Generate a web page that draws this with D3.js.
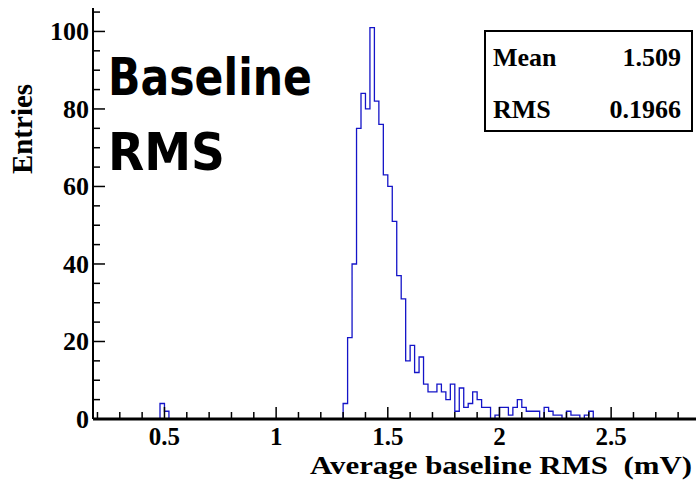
<!DOCTYPE html>
<html>
<head>
<meta charset="utf-8">
<script src="https://cdn.jsdelivr.net/npm/d3@7"></script>
<style>
  body { margin: 0; background: #fff; }
  svg { display: block; }
</style>
</head>
<body>
<div id="wrapper"></div>
<script>
// Data: histogram bins (lower edge, width 0.02) and their entries
const BIN_WIDTH = 0.02;
const lowBinEdges = [0.48, 0.50];
const lowBinCounts = [4, 2];
const mainStart = 1.30;
const mainCounts = [
  4, 21, 40, 75, 84, 80, 101, 82, 76, 63,
  60, 51, 37, 31, 15, 19, 12, 16, 9, 7,
  7, 9, 7, 5, 9, 2, 8, 3, 4, 7,
  5, 3, 3, 0, 1, 3, 3, 1, 3, 5,
  3, 2, 2, 2, 0, 3, 2, 1, 1, 0,
  2, 1, 1, 0, 1, 2
];
const xTickValues = [0.5, 1, 1.5, 2, 2.5];
const yTickValues = [0, 20, 40, 60, 80, 100];
const statsLabels = ["Mean", "RMS"];
const statsValues = ["1.509", "0.1966"];
const titleLines = ["Baseline", "RMS"];

// Constants
const WIDTH = 696;
const HEIGHT = 481;
const X_DOMAIN = [0.18, 2.88];
const Y_MAX = 101 * 1.05;
const SERIF = "'Liberation Serif', 'Times New Roman', serif";

const dimensions = (() => {
  let dimensions = {
    width: WIDTH,
    height: HEIGHT,
    margin: { top: 8, right: 0, bottom: 62, left: 93 },
  };
  dimensions.boundedWidth = dimensions.width - dimensions.margin.left - dimensions.margin.right;
  dimensions.boundedHeight = dimensions.height - dimensions.margin.top - dimensions.margin.bottom;
  return dimensions;
})();

function drawHistogram() {
  // Build bins
  const bins = [];
  lowBinEdges.forEach((x0, i) => bins.push({ x0, count: lowBinCounts[i] }));
  mainCounts.forEach((c, i) => bins.push({ x0: +(mainStart + i * BIN_WIDTH).toFixed(2), count: c }));

  const wrapper = d3.select("#wrapper")
    .append("svg")
    .attr("width", dimensions.width)
    .attr("height", dimensions.height);

  const bounds = wrapper.append("g")
    .attr("transform", `translate(${dimensions.margin.left}, ${dimensions.margin.top})`);

  const xScale = d3.scaleLinear()
    .domain(X_DOMAIN)
    .range([0, dimensions.boundedWidth]);

  const yScale = d3.scaleLinear()
    .domain([0, Y_MAX])
    .range([dimensions.boundedHeight, 0]);

  // Split into contiguous blocks and draw step outline
  const segs = [];
  let cur = [];
  bins.forEach((b, i) => {
    if (i > 0 && Math.abs(bins[i - 1].x0 + BIN_WIDTH - b.x0) > 1e-6) { segs.push(cur); cur = []; }
    cur.push(b);
  });
  segs.push(cur);
  let d = "";
  segs.forEach(seg => {
    d += `M${xScale(seg[0].x0)},${yScale(0)}`;
    seg.forEach(b => {
      d += `L${xScale(b.x0)},${yScale(b.count)}L${xScale(b.x0 + BIN_WIDTH)},${yScale(b.count)}`;
    });
    d += `L${xScale(seg[seg.length - 1].x0 + BIN_WIDTH)},${yScale(0)}`;
  });

  bounds.append("path")
    .attr("d", d)
    .attr("fill", "none")
    .attr("stroke", "#1414c8")
    .attr("stroke-width", 1.3);

  // X axis
  const xMinor = d3.range(0.2, 2.9, 0.1).map(v => +v.toFixed(2));
  const xAxis = bounds.append("g").attr("transform", `translate(0, ${dimensions.boundedHeight})`);
  xAxis.selectAll(".minor").data(xMinor).join("line")
    .attr("x1", d => xScale(d)).attr("x2", d => xScale(d))
    .attr("y1", 0).attr("y2", d => xTickValues.some(t => Math.abs(t - d) < 1e-6) ? -12 : -7)
    .attr("stroke", "#000").attr("stroke-width", 1.5);
  xAxis.append("line")
    .attr("x1", 0).attr("x2", dimensions.boundedWidth)
    .attr("stroke", "#000").attr("stroke-width", 3);
  xAxis.selectAll(".xlabel").data(xTickValues).join("text")
    .attr("x", d => xScale(d))
    .attr("y", 26)
    .attr("text-anchor", "middle")
    .style("font-family", SERIF)
    .style("font-weight", "bold")
    .style("font-size", "25px")
    .text(d => d);

  // Y axis
  const yMinor = d3.range(0, 106, 5);
  const yAxis = bounds.append("g");
  yAxis.selectAll(".minor").data(yMinor).join("line")
    .attr("x1", 0)
    .attr("x2", d => d % 20 === 0 ? 12 : 7)
    .attr("y1", d => yScale(d)).attr("y2", d => yScale(d))
    .attr("stroke", "#000").attr("stroke-width", 1.5);
  yAxis.append("line")
    .attr("y1", 0).attr("y2", dimensions.boundedHeight)
    .attr("stroke", "#000").attr("stroke-width", 2);
  yAxis.selectAll(".ylabel").data(yTickValues).join("text")
    .attr("x", -4)
    .attr("y", d => yScale(d) + 9)
    .attr("text-anchor", "end")
    .style("font-family", SERIF)
    .style("font-weight", "bold")
    .style("font-size", "26px")
    .text(d => d);

  // Axis titles
  wrapper.append("text")
    .attr("x", 692)
    .attr("y", 474)
    .attr("text-anchor", "end")
    .attr("textLength", 382)
    .attr("lengthAdjust", "spacingAndGlyphs")
    .style("white-space", "pre")
    .style("font-family", SERIF)
    .style("font-weight", "bold")
    .style("font-size", "26px")
    .text("Average baseline RMS  (mV)");

  wrapper.append("text")
    .attr("transform", "translate(32, 129) rotate(-90)")
    .attr("text-anchor", "middle")
    .style("font-family", SERIF)
    .style("font-weight", "bold")
    .style("font-size", "29px")
    .text("Entries");

  // Big title text
  wrapper.selectAll(".title").data(titleLines).join("text")
    .attr("x", 108)
    .attr("y", (d, i) => 95 + i * 75)
    .attr("textLength", (d, i) => i === 0 ? 204 : 117)
    .attr("lengthAdjust", "spacingAndGlyphs")
    .style("font-family", "'Comic Sans MS', 'DejaVu Sans', sans-serif")
    .style("font-weight", "bold")
    .style("font-size", "52px")
    .text(d => d);

  // Stats box
  const stats = wrapper.append("g");
  stats.append("rect")
    .attr("x", 485).attr("y", 31)
    .attr("width", 207).attr("height", 100)
    .attr("fill", "#fff")
    .attr("stroke", "#000").attr("stroke-width", 2);
  stats.selectAll(".slabel").data(statsLabels).join("text")
    .attr("x", 493)
    .attr("y", (d, i) => 66 + i * 52)
    .style("font-family", SERIF)
    .style("font-weight", "bold")
    .style("font-size", "26px")
    .text(d => d);
  stats.selectAll(".svalue").data(statsValues).join("text")
    .attr("x", 681)
    .attr("y", (d, i) => 66 + i * 52)
    .attr("text-anchor", "end")
    .style("font-family", SERIF)
    .style("font-weight", "bold")
    .style("font-size", "26px")
    .text(d => d);
}
drawHistogram();
</script>
</body>
</html>
